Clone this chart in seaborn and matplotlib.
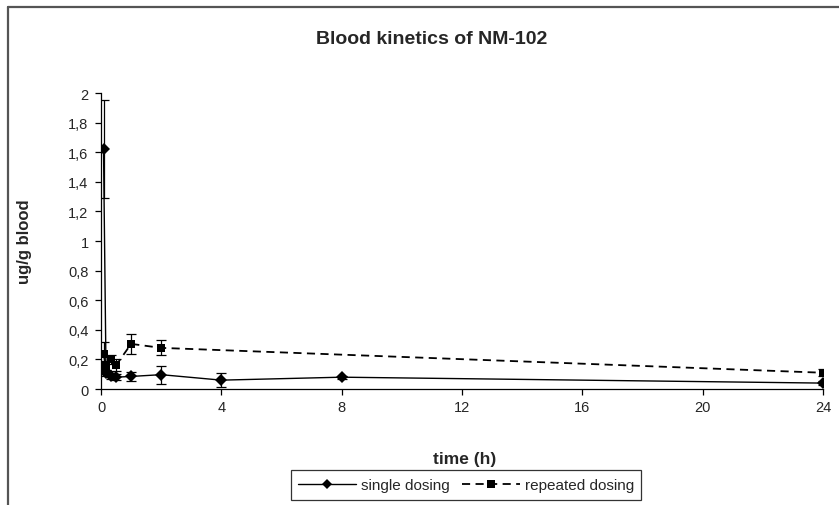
import matplotlib
matplotlib.use("Agg")
import matplotlib.pyplot as plt
from matplotlib.ticker import FuncFormatter
from matplotlib.lines import Line2D
import seaborn as sns
import pandas as pd

# Sampling times (h), mean concentrations and SDs (ug/g blood)
single_time = [0.083, 0.167, 0.333, 0.5, 1, 2, 4, 8, 24]
single_mean = [1.62, 0.106, 0.09, 0.08, 0.085, 0.097, 0.06, 0.08, 0.04]
single_sd = [0.33, 0.02, 0.02, 0.02, 0.028, 0.06, 0.045, 0.01, 0.015]

repeated_time = [0.083, 0.167, 0.333, 0.5, 1, 2, 24]
repeated_mean = [0.236, 0.157, 0.2, 0.16, 0.305, 0.278, 0.11]
repeated_sd = [0.085, 0.03, 0.03, 0.04, 0.065, 0.05, 0.025]

series_names = ["single dosing", "repeated dosing"]
x_ticks = [0, 4, 8, 12, 16, 20, 24]
y_ticks = [0, 0.2, 0.4, 0.6, 0.8, 1, 1.2, 1.4, 1.6, 1.8, 2]

df = pd.concat([
    pd.DataFrame({"time": single_time, "conc": single_mean, "sd": single_sd,
                  "group": series_names[0]}),
    pd.DataFrame({"time": repeated_time, "conc": repeated_mean, "sd": repeated_sd,
                  "group": series_names[1]}),
], ignore_index=True)

sns.set_style("white")
plt.rcParams["font.family"] = ["Liberation Sans", "DejaVu Sans"]

fig = plt.figure(figsize=(8.39, 5.06), dpi=100)
ax = fig.add_axes([0.1204, 0.2292, 0.8606, 0.585])

# error bars first so that lines and markers sit on top
for name, sub in df.groupby("group"):
    ax.errorbar(sub["time"], sub["conc"], yerr=sub["sd"], fmt="none",
                ecolor="black", elinewidth=0.9, capsize=3.8, capthick=0.9,
                zorder=2)

sns.lineplot(data=df, x="time", y="conc", hue="group", style="group",
             hue_order=series_names, style_order=series_names,
             palette=["black", "black"],
             markers={"single dosing": "D", "repeated dosing": "s"},
             dashes={"single dosing": "", "repeated dosing": (4.5, 3)},
             markersize=6, markeredgewidth=0, linewidth=1.0,
             estimator=None, sort=True, legend=False, ax=ax, zorder=3)
# slightly heavier stroke for the dashed series
ax.lines[-1].set_linewidth(1.3)

ax.set_xlim(0, 24)
ax.set_ylim(0, 2)
ax.set_xticks(x_ticks)
ax.set_yticks(y_ticks)
ax.yaxis.set_major_formatter(
    FuncFormatter(lambda v, _: ("%g" % round(v, 1)).replace(".", ",")))

for side in ("top", "right"):
    ax.spines[side].set_visible(False)
for side in ("left", "bottom"):
    ax.spines[side].set_color("black")
    ax.spines[side].set_linewidth(0.9)

ax.tick_params(axis="both", which="major", direction="out", length=4,
               width=0.9, color="black", labelsize=10.5,
               bottom=True, left=True)
ax.tick_params(axis="y", pad=5)
ax.tick_params(axis="x", pad=4)

ax.set_xlabel("time (h)", fontsize=12.5, fontweight="bold")
ax.set_ylabel("ug/g blood", fontsize=12, fontweight="bold")
ax.xaxis.set_label_coords(0.503, -0.21)
ax.yaxis.set_label_coords(-0.096, 0.5)

fig.text(0.514, 0.922, "Blood kinetics of NM-102", ha="center", va="center",
         fontsize=14, fontweight="bold")

handles = [
    Line2D([], [], color="black", linewidth=1.0, marker="D", markersize=5,
           markeredgewidth=0),
    Line2D([], [], color="black", linewidth=1.3, linestyle=(0, (4.5, 3)),
           marker="s", markersize=5.5, markeredgewidth=0),
]
leg = fig.legend(handles, series_names, loc="center",
                 bbox_to_anchor=(0.5555, 0.0395), ncol=2, frameon=True,
                 fancybox=False, edgecolor="black", fontsize=11,
                 handlelength=3.8, handletextpad=0.3, columnspacing=0.8,
                 borderpad=0.5, borderaxespad=0)
leg.get_frame().set_linewidth(0.9)

# outer chart-area border (left and top edges visible)
fig.add_artist(Line2D([0.0095, 0.0095], [-0.05, 0.984], transform=fig.transFigure,
                      color="#555555", linewidth=1.6))
fig.add_artist(Line2D([0.0095, 1.05], [0.984, 0.984], transform=fig.transFigure,
                      color="#555555", linewidth=1.6))

fig.savefig("out.png", dpi=100)
